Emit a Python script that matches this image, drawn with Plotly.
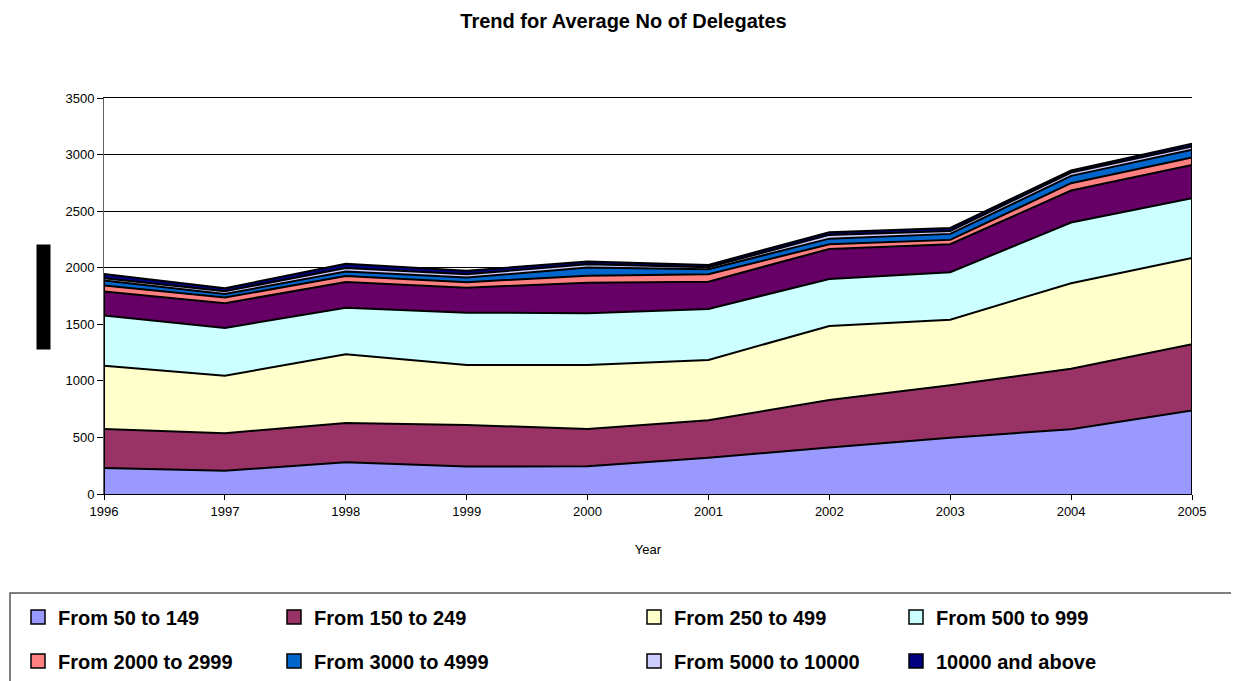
import plotly.graph_objects as go

years = [1996, 1997, 1998, 1999, 2000, 2001, 2002, 2003, 2004, 2005]
tick_labels = [str(y) for y in years]

s_50_149 = [230, 206, 280, 242, 245, 321, 410, 498, 572, 737]
s_150_249 = [345, 331, 348, 368, 330, 331, 421, 463, 536, 587]
s_250_499 = [559, 509, 607, 531, 566, 533, 654, 580, 755, 763]
s_500_999 = [443, 422, 412, 462, 457, 451, 416, 419, 536, 527]
s_1000_1999 = [212, 218, 227, 221, 270, 241, 265, 248, 283, 295]
s_2000_2999 = [53, 50, 53, 48, 62, 65, 42, 38, 65, 65]
s_3000_4999 = [44, 32, 39, 41, 71, 45, 49, 53, 65, 68]
s_5000_10000 = [21, 24, 32, 29, 30, 17, 33, 26, 29, 29]
s_10000_up = [38, 27, 36, 32, 23, 21, 24, 27, 18, 24]

series = [
    ("From 50 to 149", s_50_149, "#9999FF"),
    ("From 150 to 249", s_150_249, "#993366"),
    ("From 250 to 499", s_250_499, "#FFFFCC"),
    ("From 500 to 999", s_500_999, "#CCFFFF"),
    ("From 1000 to 1999", s_1000_1999, "#660066"),
    ("From 2000 to 2999", s_2000_2999, "#FF8080"),
    ("From 3000 to 4999", s_3000_4999, "#0066CC"),
    ("From 5000 to 10000", s_5000_10000, "#CCCCFF"),
    ("10000 and above", s_10000_up, "#000080"),
]
# legend layout as in the reference (the 1000-1999 series is not listed)
legend_entries = [
    "From 50 to 149", "From 150 to 249", "From 250 to 499", "From 500 to 999",
    "From 2000 to 2999", "From 3000 to 4999", "From 5000 to 10000", "10000 and above",
]

# the page body adds an 8px offset; lay the figure out in page pixels minus that
OFF = 8
W, H = 1239 - OFF, 681 - OFF
PLOT_L, PLOT_R, PLOT_T, PLOT_B = 104 - OFF, 1192 - OFF, 98 - OFF, 494 - OFF
L, R, T, B = PLOT_L, W - PLOT_R, PLOT_T, H - PLOT_B
PW, PH = PLOT_R - PLOT_L, PLOT_B - PLOT_T

def px_x(px):
    return (px - OFF - PLOT_L) / PW

def px_y(py):
    return (PLOT_B - (py - OFF)) / PH

fig = go.Figure()
for name, vals, color in series:
    fig.add_trace(go.Scatter(
        x=years, y=vals, name=name, mode="lines",
        stackgroup="one", fillcolor=color,
        line=dict(color="black", width=2),
        showlegend=False, hoverinfo="x+y+name",
    ))

# outline edges of the stacked area at both ends
totals = [sum(v[i] for _, v, _ in series) for i in range(len(years))]
for idx in (0, len(years) - 1):
    fig.add_trace(go.Scatter(x=[years[idx], years[idx]], y=[0, totals[idx]],
                             mode="lines", line=dict(color="black", width=2),
                             showlegend=False, hoverinfo="skip"))

color_of = {n: c for n, _, c in series}
col_px = [18, 274, 634, 896]
row_py = [617, 661]
legend_layouts = {}
for i, name in enumerate(legend_entries):
    key = "legend" if i == 0 else f"legend{i + 1}"
    fig.add_trace(go.Scatter(x=[None], y=[None], name=name, mode="markers",
                             marker=dict(symbol="square", size=14, color=color_of[name],
                                         line=dict(color="black", width=1.5)),
                             legend=key, showlegend=True))
    legend_layouts[key] = dict(
        x=px_x(col_px[i % 4]), xanchor="left",
        y=px_y(row_py[i // 4]), yanchor="middle",
        bgcolor="rgba(0,0,0,0)", borderwidth=0, itemsizing="trace",
        font=dict(size=20, family="Liberation Sans, Arial, sans-serif", weight="bold"),
        itemwidth=30,
    )

fig.update_layout(
    width=W, height=H,
    margin=dict(l=L, r=R, t=T, b=B, autoexpand=False),
    paper_bgcolor="white", plot_bgcolor="white",
    font=dict(family="Liberation Sans, Arial, sans-serif", color="black", size=13),
    title=dict(text="<b>Trend for Average No of Delegates</b>",
               x=0.5, xanchor="center", y=1 - 13 / H, yanchor="middle",
               font=dict(size=20, family="Liberation Sans, Arial, sans-serif")),
    xaxis=dict(range=[1996, 2005], tickvals=years, ticktext=tick_labels,
               showgrid=False, showline=True, linecolor="black", linewidth=1,
               mirror=True, automargin=False,
               ticks="outside", ticklen=5, tickcolor="black",
               title=dict(text="Year", font=dict(size=13), standoff=27),
               zeroline=False),
    yaxis=dict(range=[0, 3500], dtick=500, showgrid=True, gridcolor="black",
               gridwidth=1, showline=True, linecolor="#606060", linewidth=1,
               automargin=False,
               ticks="outside", ticklen=6, tickcolor="black", zeroline=False),
    annotations=[dict(text="Average No of Delegates", xref="paper", yref="paper",
                      x=px_x(43), y=px_y(297),
                      xanchor="center", yanchor="middle",
                      textangle=-90, showarrow=False, borderpad=1.5,
                      font=dict(size=9, color="black"), bgcolor="black")],
    shapes=[dict(type="rect", xref="paper", yref="paper",
                 x0=px_x(10), x1=px_x(1260),
                 y0=px_y(593), y1=px_y(700),
                 line=dict(color="#555555", width=1.5), fillcolor="rgba(0,0,0,0)",
                 layer="below")],
    **legend_layouts,
)

fig.write_html("out.html")
